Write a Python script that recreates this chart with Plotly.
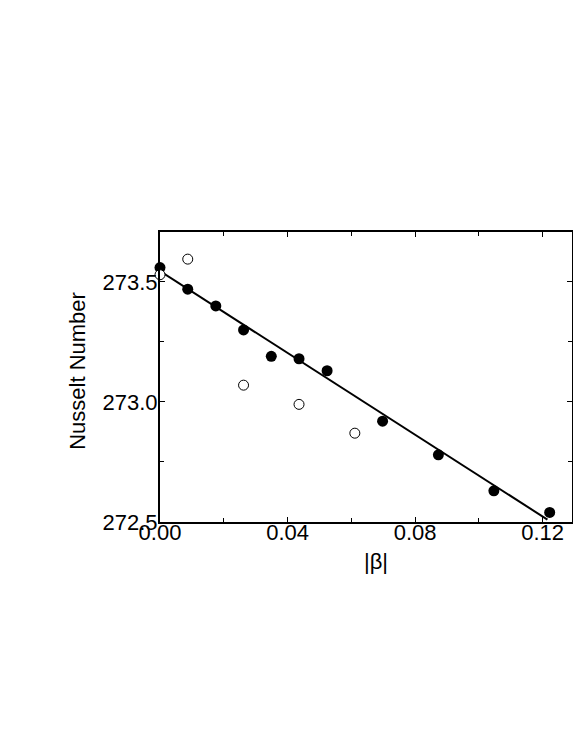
import plotly.graph_objects as go

# Measured points (filled circles)
beta_filled = [0.0, 0.0087, 0.0175, 0.0262, 0.0349, 0.0436, 0.0524, 0.0698, 0.0873, 0.1047, 0.1222]
nu_filled = [273.56, 273.47, 273.40, 273.30, 273.19, 273.18, 273.13, 272.92, 272.78, 272.63, 272.54]

# Open circles
beta_open = [0.0, 0.0087, 0.0262, 0.0436, 0.0611]
nu_open = [273.53, 273.595, 273.07, 272.99, 272.87]

# Linear fit line end points
beta_fit = [0.0, 0.1215]
nu_fit = [273.545, 272.51]

FONT = "Liberation Sans, Arial, Helvetica, sans-serif"
FS = 22

fig = go.Figure()

fig.add_trace(go.Scatter(
    x=beta_fit, y=nu_fit, mode="lines",
    line=dict(color="black", width=2),
    showlegend=False, cliponaxis=False,
))

fig.add_trace(go.Scatter(
    x=beta_filled, y=nu_filled, mode="markers",
    marker=dict(symbol="circle", size=11, color="black"),
    showlegend=False, cliponaxis=False,
))

fig.add_trace(go.Scatter(
    x=beta_open, y=nu_open, mode="markers",
    marker=dict(symbol="circle", size=10, color="white",
                line=dict(color="black", width=1)),
    showlegend=False, cliponaxis=False,
))

axis_common = dict(
    showline=True, linecolor="black", linewidth=2.2, mirror="ticks",
    ticks="inside", ticklen=5, tickwidth=1, tickcolor="black",
    showgrid=False, zeroline=False, automargin=False,
    tickfont=dict(family=FONT, size=FS, color="black"),
)

fig.update_xaxes(
    range=[0, 0.1292], tickvals=[0.0, 0.04, 0.08, 0.12],
    ticktext=["0.00", "0.04", "0.08", "0.12"],
    ticklabelstandoff=-11,
    minor=dict(tickvals=[0.02, 0.06, 0.10], ticks="inside", ticklen=4,
               tickcolor="black", tickwidth=1),
    **axis_common,
)
fig.update_yaxes(
    range=[272.5, 273.708], tickvals=[272.5, 273.0, 273.5],
    ticktext=["272.5", "273.0", "273.5"],
    ticklabelstandoff=-4,
    minor=dict(tickvals=[272.75, 273.25], ticks="inside", ticklen=4,
               tickcolor="black", tickwidth=1),
    **axis_common,
)

# axis titles
fig.add_annotation(
    text="|β|", xref="paper", yref="paper", x=0.525, y=0, yanchor="middle",
    yshift=-39, showarrow=False, font=dict(family=FONT, size=FS, color="black"),
)
fig.add_annotation(
    text="Nusselt Number", xref="paper", yref="paper", x=-0.2, y=0.52,
    xanchor="center", yanchor="middle", textangle=-90, showarrow=False,
    font=dict(family=FONT, size=FS, color="black"),
)

# the page shows the figure from (8, 8) and only 565 px of its width
fig.update_layout(
    width=565, height=736,
    margin=dict(l=152, r=1, t=224, b=222),
    plot_bgcolor="white", paper_bgcolor="white",
)

fig.write_html("out.html")
